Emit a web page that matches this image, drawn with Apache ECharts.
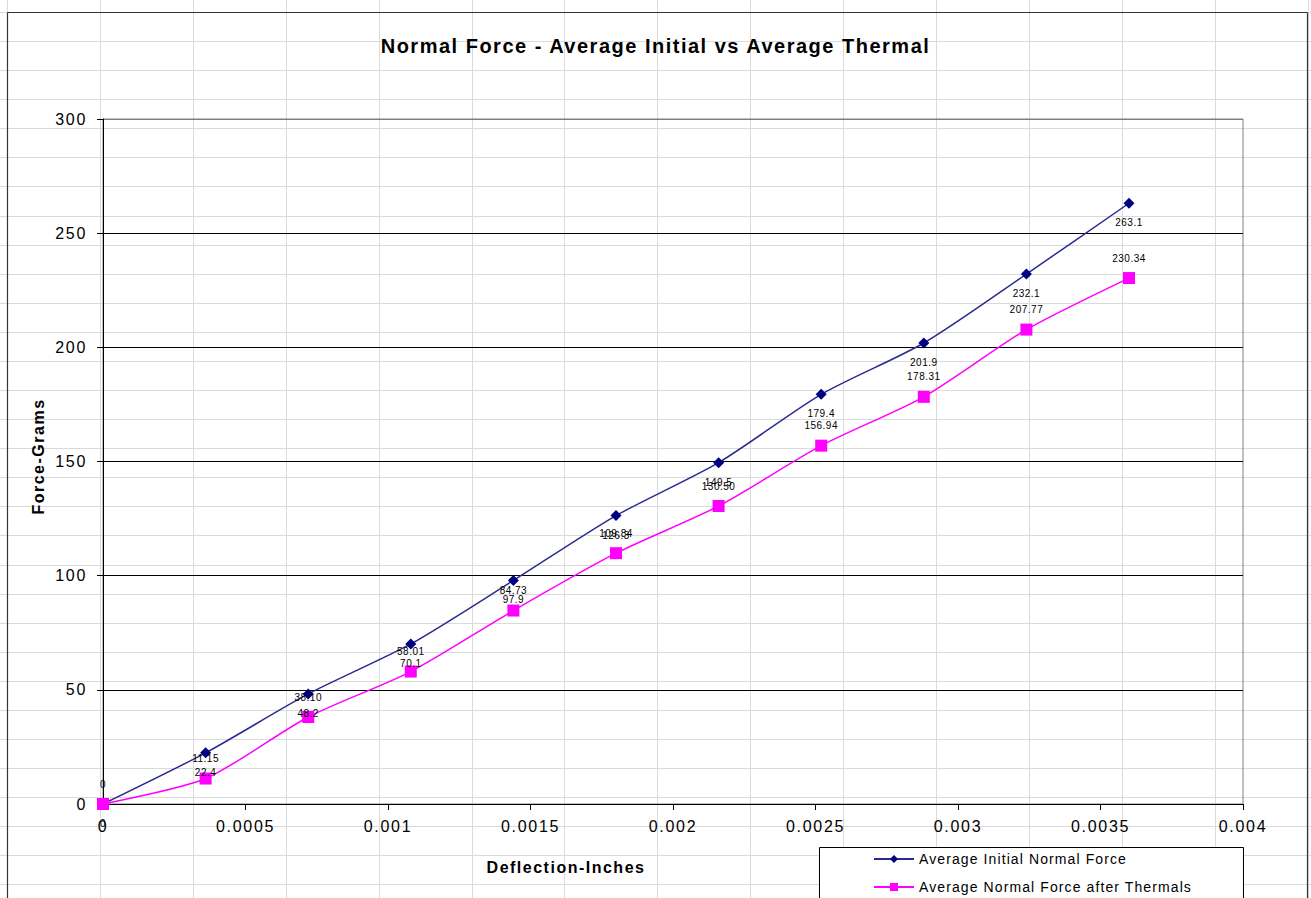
<!DOCTYPE html>
<html>
<head>
<meta charset="utf-8">
<script src="https://cdn.jsdelivr.net/npm/echarts@6/dist/echarts.min.js"></script>
<style>
html,body{margin:0;padding:0;background:#fff;}
#chart{width:1311px;height:898px;}
</style>
</head>
<body>
<div id="chart"></div>
<script>
// ---- data ----
const titleText = 'Normal Force - Average Initial vs Average Thermal';
const seriesNames = ['Average Initial Normal Force', 'Average Normal Force after Thermals'];
const deflection = [0, 0.00036, 0.00072, 0.00108, 0.00144, 0.0018, 0.00216, 0.00252, 0.00288, 0.00324, 0.0036];
const initialForce = [0, 22.4, 48.2, 70.1, 97.9, 126.3, 149.5, 179.4, 201.9, 232.1, 263.1];
const thermalForce = [0, 11.15, 38.10, 58.01, 84.73, 109.84, 130.50, 156.94, 178.31, 207.77, 230.34];
const xAxisName = 'Deflection-Inches';
const yAxisName = 'Force-Grams';

// ---- spreadsheet background cells (decoration) ----
const FONT = 'Liberation Sans, Arial, sans-serif';
const bg = [];
for (let k = 0; k < 15; k++) {
  const x = Math.round(7 + 92.9 * k) + 0.5;
  bg.push({type:'line', z:-10, silent:true, shape:{x1:x, y1:0, x2:x, y2:898}, style:{stroke:'#dadada', lineWidth:1}});
}
for (let k = 0; k < 32; k++) {
  const y = Math.round(12 + 29.08 * k) + 0.5;
  bg.push({type:'line', z:-10, silent:true, shape:{x1:0, y1:y, x2:1311, y2:y}, style:{stroke:'#dadada', lineWidth:1}});
}
// chart border
bg.push({type:'line', z:-5, silent:true, shape:{x1:7.5, y1:12.5, x2:7.5, y2:898}, style:{stroke:'#333', lineWidth:1.2}});
bg.push({type:'line', z:-5, silent:true, shape:{x1:7.5, y1:12.5, x2:1307.5, y2:12.5}, style:{stroke:'#333', lineWidth:1.2}});
bg.push({type:'line', z:-5, silent:true, shape:{x1:1307.5, y1:12.5, x2:1307.5, y2:898}, style:{stroke:'#333', lineWidth:1.2}});
// legend box
bg.push({type:'rect', z:3, silent:true, shape:{x:819.5, y:847.5, width:424, height:120}, style:{fill:'#fff', stroke:'#000', lineWidth:1}});

const legendCommon = {
  orient: 'horizontal', left: 873, padding: 0,
  itemWidth: 40, itemHeight: 10, itemGap: 4,
  textStyle: {fontSize: 14, color: '#000', fontFamily: FONT}
};

const chart = echarts.init(document.getElementById('chart'), null, {renderer: 'svg'});
chart.setOption({
  animation: false,
  backgroundColor: 'transparent',
  textStyle: {fontFamily: FONT},
  title: {
    text: titleText, left: 'center', top: 31,
    textStyle: {fontSize: 20, fontWeight: 'bold', color: '#000', fontFamily: FONT}
  },
  graphic: {elements: bg},
  grid: {left: 103, right: 68, top: 119, bottom: 94, show: true, borderColor: '#808080', borderWidth: 1, backgroundColor: 'transparent'},
  legend: [
    Object.assign({}, legendCommon, {top: 852, data: [seriesNames[0]]}),
    Object.assign({}, legendCommon, {top: 880, data: [seriesNames[1]]})
  ],
  xAxis: {
    type: 'value', min: 0, max: 0.004, interval: 0.0005,
    name: xAxisName, nameLocation: 'middle', nameGap: 55,
    nameTextStyle: {fontSize: 16, fontWeight: 'bold', color: '#000', fontFamily: FONT, padding: [0, 214, 0, 0]},
    axisLine: {onZero: false, lineStyle: {color: '#000', width: 1}},
    axisTick: {show: true, inside: false, length: 6, lineStyle: {color: '#000'}},
    axisLabel: {fontSize: 16, color: '#000', margin: 14, fontFamily: FONT},
    splitLine: {show: false}
  },
  yAxis: {
    type: 'value', min: 0, max: 300, interval: 50,
    name: yAxisName, nameLocation: 'middle', nameGap: 57, nameRotate: 90,
    nameTextStyle: {fontSize: 16, fontWeight: 'bold', color: '#000', fontFamily: FONT, padding: [0, 0, 0, 10]},
    axisLine: {show: true, lineStyle: {color: '#000', width: 1}},
    axisTick: {show: true, inside: false, length: 6, lineStyle: {color: '#000'}},
    axisLabel: {fontSize: 16, color: '#000', margin: 16, fontFamily: FONT},
    splitLine: {show: true, lineStyle: {color: ['#000','#000','#000','#000','#000','#000','#808080'], width: 1}}
  },
  series: [
    {
      name: seriesNames[0], type: 'line', smooth: 0.25,
      data: deflection.map((x, i) => [x, initialForce[i]]),
      symbol: 'diamond', symbolSize: 11,
      itemStyle: {color: '#000080'},
      lineStyle: {color: '#2b2b8f', width: 1.5},
      label: {show: true, position: 'bottom', distance: 9, fontSize: 10, color: '#000', fontFamily: FONT,
        formatter: p => String(initialForce[p.dataIndex])}
    },
    {
      name: seriesNames[1], type: 'line', smooth: 0.25,
      data: deflection.map((x, i) => [x, thermalForce[i]]),
      symbol: 'rect', symbolSize: 12,
      itemStyle: {color: '#ff00ff'},
      lineStyle: {color: '#ff00ff', width: 1.5},
      label: {show: true, position: 'top', distance: 9, fontSize: 10, color: '#000', fontFamily: FONT,
        formatter: p => { const v = thermalForce[p.dataIndex]; return v === 0 ? '0' : v.toFixed(2); }}
    }
  ]
});

// Excel-like wide character spacing on the rendered SVG text
function applySpacing() {
  const texts = document.querySelectorAll('#chart svg text');
  texts.forEach(t => {
    const st = (t.getAttribute('style') || '') + ' ' + (t.getAttribute('font') || '');
    const m = st.match(/(\d+(?:\.\d+)?)px/);
    const size = m ? parseFloat(m[1]) : 12;
    const bold = /bold/.test(st);
    let ls = 0;
    if (size >= 19) ls = 1.5;
    else if (size >= 15 && bold) ls = 1.5;
    else if (size >= 15) ls = 1.7;
    else if (size >= 13) ls = 1.1;
    else ls = 0.5;
    t.setAttribute('letter-spacing', ls + 'px');
  });
}
chart.on('finished', applySpacing);
setTimeout(applySpacing, 50);
setTimeout(applySpacing, 300);
</script>
</body>
</html>
